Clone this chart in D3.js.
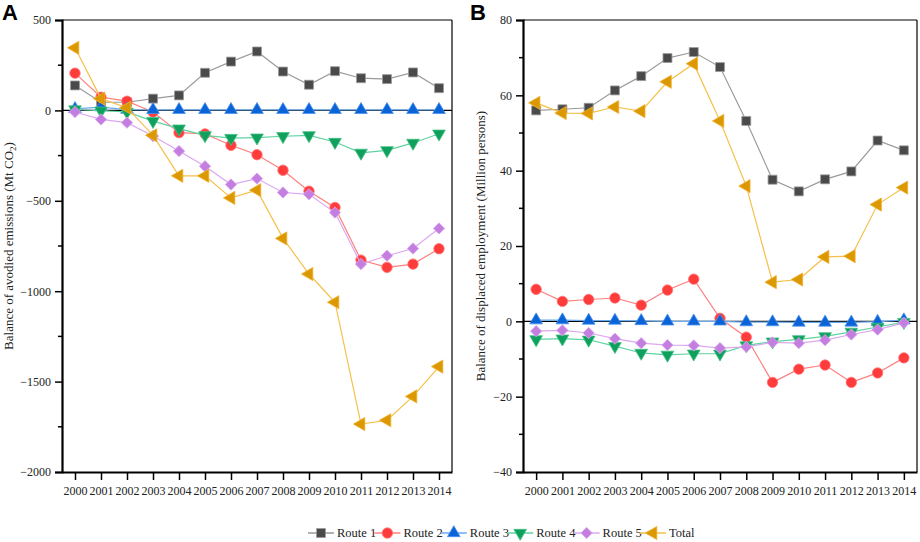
<!DOCTYPE html>
<html>
<head>
<meta charset="utf-8">
<script src="https://d3js.org/d3.v7.min.js"></script>
<style>
  body { margin: 0; background: #fff; }
  text { font-family: "Liberation Serif", "Times New Roman", serif; }
</style>
</head>
<body>
<div id="chart"></div>
<script>
// data
var years = [2000, 2001, 2002, 2003, 2004, 2005, 2006, 2007, 2008, 2009, 2010, 2011, 2012, 2013, 2014];
var seriesNames = ["Route 1", "Route 2", "Route 3", "Route 4", "Route 5", "Total"];

// panel A: balance of avoided emissions (Mt CO2)
var emRoute1 = [138, 45, 45, 65, 83, 208, 270, 326, 215, 142, 217, 178, 173, 210, 123];
var emRoute2 = [206, 73, 51, -9, -123, -130, -193, -245, -331, -447, -537, -828, -868, -850, -765];
var emRoute3 = [8, 18, 4, 3, 3, 3, 3, 3, 3, 3, 3, 3, 3, 3, 3];
var emRoute4 = [5, -2, -8, -59, -101, -138, -153, -151, -143, -138, -175, -235, -221, -180, -129];
var emRoute5 = [-9, -50, -68, -142, -225, -309, -410, -377, -454, -464, -565, -850, -804, -764, -653];
var emTotal = [346, 65, 15, -138, -362, -362, -484, -441, -708, -905, -1061, -1735, -1714, -1582, -1417];

// panel B: balance of displaced employment (Million persons)
var jobRoute1 = [56.0, 56.3, 56.7, 61.3, 65.1, 69.9, 71.5, 67.5, 53.2, 37.6, 34.5, 37.7, 39.8, 48.0, 45.4];
var jobRoute2 = [8.5, 5.3, 5.8, 6.2, 4.3, 8.3, 11.2, 0.8, -4.2, -16.2, -12.7, -11.6, -16.2, -13.7, -9.7];
var jobRoute3 = [0.3, 0.3, 0.2, 0.2, 0.1, 0.0, 0.0, 0.0, -0.2, -0.2, -0.3, -0.3, -0.3, -0.1, 0.3];
var jobRoute4 = [-4.8, -4.6, -4.9, -6.6, -8.4, -8.9, -8.6, -8.6, -6.4, -5.4, -4.8, -4.0, -2.8, -1.5, -0.2];
var jobRoute5 = [-2.6, -2.4, -3.1, -4.6, -5.8, -6.3, -6.4, -7.1, -6.8, -5.6, -5.8, -5.0, -3.5, -2.2, -0.4];
var jobTotal = [58.0, 55.3, 55.2, 56.9, 55.8, 63.6, 68.4, 53.2, 35.9, 10.4, 11.1, 17.1, 17.3, 31.0, 35.5];

var emTicks = [500, 0, -500, -1000, -1500, -2000];
var jobTicks = [80, 60, 40, 20, 0, -20, -40];

// styling per series
var markerFill = ["#4a4a4a", "#ff3c3c", "#0a64d8", "#10a05e", "#c47ee0", "#dc9800"];
var markerEdge = ["#9a9a9a", "#ff7070", "#4a90f0", "#40c080", "#d9a6ee", "#f0b030"];
var lineColor = ["#9a9a9a", "#ff8080", "#6aaaf0", "#5ed4a0", "#dba8f0", "#f5c04a"];
var shapes = [d3.symbolSquare, d3.symbolCircle, d3.symbolTriangle, d3.symbolTriangle, d3.symbolSquare, d3.symbolTriangle];
var sizes = [80, 85, 70, 70, 64, 75];
var rotations = [0, 0, 0, 180, 45, -90];

var svg = d3.select("#chart").append("svg")
    .attr("width", 920)
    .attr("height", 542);

function drawPanel(opts) {
    var x = d3.scaleLinear()
        .domain([1999.5, 2014.5])
        .range([opts.left, opts.right]);
    var y = d3.scaleLinear()
        .domain(opts.domain)
        .range([opts.bottom, opts.top]);

    var g = svg.append("g");

    // thin box on top and right
    g.append("line")
        .attr("x1", opts.left).attr("x2", opts.right)
        .attr("y1", opts.top).attr("y2", opts.top)
        .attr("stroke", "#000").attr("stroke-width", 1.2);
    g.append("line")
        .attr("x1", opts.right).attr("x2", opts.right)
        .attr("y1", opts.top).attr("y2", opts.bottom)
        .attr("stroke", "#000").attr("stroke-width", 1.2);

    // zero line
    g.append("line")
        .attr("x1", opts.left).attr("x2", opts.right)
        .attr("y1", y(0)).attr("y2", y(0))
        .attr("stroke", "#000").attr("stroke-width", 1.2);

    // minor y ticks
    var minor = d3.range(opts.domain[0], opts.domain[1] + 0.001, opts.minorStep)
        .filter(function(v) { return opts.ticks.indexOf(v) < 0; });
    g.selectAll(".minor")
        .data(minor)
        .enter().append("line")
        .attr("x1", opts.left - 4).attr("x2", opts.left)
        .attr("y1", function(d) { return y(d); })
        .attr("y2", function(d) { return y(d); })
        .attr("stroke", "#000").attr("stroke-width", 1.5);

    // y axis
    var yAxis = g.append("g")
        .attr("transform", "translate(" + opts.left + ",0)")
        .call(d3.axisLeft(y).tickValues(opts.ticks).tickSize(7).tickPadding(4).tickFormat(d3.format("d")));
    yAxis.select(".domain").attr("stroke-width", 2.2);
    yAxis.selectAll(".tick line").attr("stroke-width", 1.5);
    yAxis.selectAll("text")
        .style("font-family", "Liberation Serif")
        .style("font-size", "12px")
        .attr("fill", "#222");

    // x axis
    var xAxis = g.append("g")
        .attr("transform", "translate(0," + opts.bottom + ")")
        .call(d3.axisBottom(x).tickValues(years).tickSize(8).tickPadding(6).tickSizeOuter(0).tickFormat(d3.format("d")));
    xAxis.select(".domain").attr("stroke-width", 2.2);
    xAxis.selectAll(".tick line").attr("stroke-width", 1.5);
    xAxis.selectAll("text")
        .style("font-family", "Liberation Serif")
        .style("font-size", "12px")
        .attr("fill", "#222");

    // axis title
    var title = g.append("text")
        .attr("transform", "translate(" + opts.titleX + "," + ((opts.top + opts.bottom) / 2) + ") rotate(-90)")
        .attr("text-anchor", "middle")
        .style("font-size", "13px")
        .attr("fill", "#222");
    opts.title(title);

    // panel letter
    svg.append("text")
        .attr("x", opts.letterX)
        .attr("y", 20)
        .style("font-family", "Liberation Sans")
        .style("font-weight", "bold")
        .style("font-size", "22px")
        .text(opts.letter);

    var line = d3.line()
        .x(function(d, i) { return x(years[i]); })
        .y(function(d) { return y(d); });

    opts.series.forEach(function(vals, k) {
        g.append("path")
            .datum(vals)
            .attr("d", line)
            .attr("fill", "none")
            .attr("stroke", lineColor[k])
            .attr("stroke-width", 1.2);
        g.selectAll(".m" + k)
            .data(vals)
            .enter().append("path")
            .attr("transform", function(d, i) {
                return "translate(" + x(years[i]) + "," + y(d) + ") rotate(" + rotations[k] + ")";
            })
            .attr("d", d3.symbol().type(shapes[k]).size(sizes[k]))
            .attr("fill", markerFill[k])
            .attr("stroke", markerEdge[k])
            .attr("stroke-width", 0.8);
    });
}

drawPanel({
    left: 62, right: 452, top: 20, bottom: 472,
    domain: [-2000, 500], ticks: emTicks, minorStep: 250,
    titleX: 13, letter: "A", letterX: 2,
    series: [emRoute1, emRoute2, emRoute3, emRoute4, emRoute5, emTotal],
    title: function(t) {
        t.append("tspan").text("Balance of avodied emissions (Mt CO");
        t.append("tspan").attr("dy", 3).style("font-size", "9px").text("2");
        t.append("tspan").attr("dy", -3).text(")");
    }
});

drawPanel({
    left: 523, right: 917, top: 20, bottom: 472,
    domain: [-40, 80], ticks: jobTicks, minorStep: 10,
    titleX: 485, letter: "B", letterX: 470,
    series: [jobRoute1, jobRoute2, jobRoute3, jobRoute4, jobRoute5, jobTotal],
    title: function(t) {
        t.text("Balance of displaced employment (Million persons)");
    }
});

// legend
var legend = svg.append("g").attr("transform", "translate(308,533)");
var item = legend.selectAll(".item")
    .data(seriesNames)
    .enter().append("g")
    .attr("transform", function(d, i) { return "translate(" + (i * 66.4) + ",0)"; });
item.append("line")
    .attr("x1", 0).attr("x2", 26)
    .attr("stroke", function(d, i) { return lineColor[i]; })
    .attr("stroke-width", 1.5);
item.append("path")
    .attr("transform", function(d, i) { return "translate(13,0) rotate(" + rotations[i] + ")"; })
    .attr("d", function(d, i) { return d3.symbol().type(shapes[i]).size(sizes[i])(); })
    .attr("fill", function(d, i) { return markerFill[i]; })
    .attr("stroke", function(d, i) { return markerEdge[i]; })
    .attr("stroke-width", 0.8);
item.append("text")
    .attr("x", 29)
    .attr("dy", "0.35em")
    .style("font-size", "12.5px")
    .attr("fill", "#222")
    .text(function(d) { return d; });
</script>
</body>
</html>
